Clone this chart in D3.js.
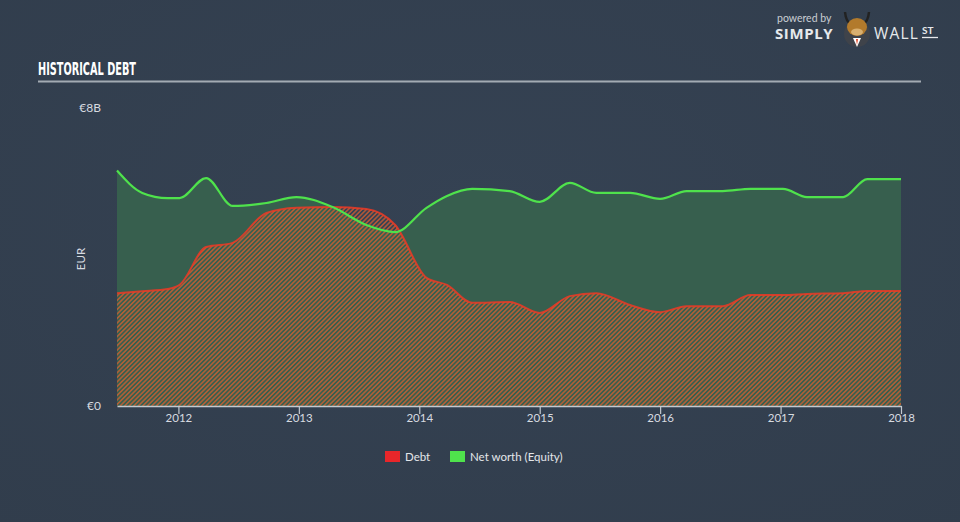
<!DOCTYPE html>
<html>
<head>
<meta charset="utf-8">
<script src="https://cdn.jsdelivr.net/npm/d3@7"></script>
<style>
  html, body { margin: 0; padding: 0; }
  body { width: 960px; height: 522px; overflow: hidden; background: #334050; font-family: Lato, "Open Sans", sans-serif; }
</style>
</head>
<body>
<div id="chart"></div>
<script>
// Historical debt vs net worth (EUR billions)
const years = [2011.49, 2011.70, 2011.91, 2012.01, 2012.23, 2012.45, 2012.73, 2012.98, 2013.28, 2013.56, 2013.80,
               2014.06, 2014.23, 2014.44, 2014.75, 2015.0, 2015.25, 2015.47, 2015.75, 2016.0, 2016.22, 2016.52,
               2016.75, 2017.02, 2017.22, 2017.52, 2017.72, 2018.0];
const debt = [3.03, 3.08, 3.14, 3.25, 4.27, 4.38, 5.18, 5.32, 5.34, 5.29, 4.86,
              3.44, 3.25, 2.77, 2.79, 2.50, 2.95, 3.03, 2.71, 2.52, 2.68, 2.68,
              2.98, 2.98, 3.01, 3.03, 3.09, 3.09];
const equity = [6.32, 5.72, 5.58, 5.58, 6.12, 5.37, 5.45, 5.61, 5.34, 4.86, 4.67,
                5.32, 5.64, 5.83, 5.77, 5.48, 5.99, 5.72, 5.72, 5.56, 5.77, 5.77,
                5.83, 5.83, 5.61, 5.61, 6.09, 6.09];
const xTicks = [2012, 2013, 2014, 2015, 2016, 2017, 2018];
const yTicks = [0, 8];
const yTickLabels = ['€0', '€8B'];
const legendItems = [{ name: 'Debt', color: '#e8262a' }, { name: 'Net worth (Equity)', color: '#4fe24c' }];

const width = 960, height = 522;
const plot = { left: 117, right: 901, top: 108, bottom: 406 };

const svg = d3.select('#chart').append('svg')
  .attr('width', width)
  .attr('height', height);

const defs = svg.append('defs');
const bg = defs.append('radialGradient').attr('id', 'bg-grad')
  .attr('cx', '50%').attr('cy', '40%').attr('r', '80%');
bg.append('stop').attr('offset', '0%').attr('stop-color', '#354253');
bg.append('stop').attr('offset', '100%').attr('stop-color', '#313d4c');

// diagonal hatch used for debt
const hatch = defs.append('pattern')
  .attr('id', 'hatch')
  .attr('patternUnits', 'userSpaceOnUse')
  .attr('width', 3.2).attr('height', 4)
  .attr('patternTransform', 'rotate(45)');
hatch.append('rect').attr('x', 0).attr('y', 0).attr('width', 1.6).attr('height', 4)
  .attr('fill', '#e0602f').attr('fill-opacity', 0.7);

svg.append('rect').attr('width', width).attr('height', height).attr('fill', 'url(#bg-grad)');

const x = d3.scaleLinear().domain([years[0], 2018]).range([plot.left, plot.right]);
const y = d3.scaleLinear().domain([0, 8]).range([plot.bottom, plot.top]);

const rows = years.map((yr, i) => ({ yr, debt: debt[i], equity: equity[i] }));

const curve = d3.curveMonotoneX;
const eqArea = d3.area().curve(curve).x(d => x(d.yr)).y0(y(0)).y1(d => y(d.equity));
const dbArea = d3.area().curve(curve).x(d => x(d.yr)).y0(y(0)).y1(d => y(d.debt));
const eqLine = d3.line().curve(curve).x(d => x(d.yr)).y(d => y(d.equity));
const dbLine = d3.line().curve(curve).x(d => x(d.yr)).y(d => y(d.debt));

svg.append('path').datum(rows).attr('d', eqArea).attr('fill', '#375f4e');
svg.append('path').datum(rows).attr('d', dbArea).attr('fill', 'url(#hatch)');
svg.append('path').datum(rows).attr('d', dbLine)
  .attr('fill', 'none').attr('stroke', '#ec3a26').attr('stroke-width', 2).attr('stroke-opacity', 0.85);
svg.append('path').datum(rows).attr('d', eqLine)
  .attr('fill', 'none').attr('stroke', '#4fe24c').attr('stroke-width', 2.2);

// x axis
const xAxis = d3.axisBottom(x).tickValues(xTicks).tickFormat(d3.format('d')).tickSize(-8).tickSizeOuter(0);
const xg = svg.append('g').attr('transform', `translate(0,${plot.bottom})`).call(xAxis);
xg.select('.domain').attr('stroke', '#c3c9cf').attr('stroke-width', 1.5);
xg.selectAll('.tick line').attr('stroke', '#c3c9cf').attr('y1', 8).attr('y2', 0).attr('stroke-width', 1.2);
xg.selectAll('.tick text').attr('fill', '#d7dbe0').attr('font-size', 11.5).attr('dy', '0.75em').attr('y', 7)
  .attr('font-family', 'Lato, sans-serif');

// y labels
svg.append('g').selectAll('text').data(yTicks).join('text')
  .attr('x', 101).attr('y', d => y(d)).attr('dy', '0.35em')
  .attr('text-anchor', 'end').attr('fill', '#d7dbe0').attr('font-size', 12)
  .text((d, i) => yTickLabels[i]);

svg.append('text')
  .attr('transform', `translate(85,${(plot.top + plot.bottom) / 2 + 2}) rotate(-90)`)
  .attr('text-anchor', 'middle').attr('fill', '#d7dbe0').attr('font-size', 11.5)
  .text('EUR');

// title
svg.append('text')
  .attr('x', 38).attr('y', 75)
  .attr('fill', '#ffffff').attr('font-size', 18).attr('font-weight', 'bold')
  .attr('font-family', '"Liberation Sans Narrow", "DejaVu Sans Condensed", sans-serif')
  .attr('font-stretch', 'condensed')
  .attr('textLength', 98).attr('lengthAdjust', 'spacingAndGlyphs')
  .text('HISTORICAL DEBT');
svg.append('line').attr('x1', 38).attr('x2', 921).attr('y1', 81.5).attr('y2', 81.5)
  .attr('stroke', '#a3abb3').attr('stroke-width', 2);

// legend
const lg = svg.append('g').attr('transform', 'translate(385,451)');
let lx = 0;
legendItems.forEach(item => {
  lg.append('rect').attr('x', lx).attr('y', 0).attr('width', 15).attr('height', 11).attr('fill', item.color);
  lg.append('text').attr('x', lx + 20).attr('y', 10).attr('fill', '#e3e6ea')
    .attr('font-size', 11.5).text(item.name);
  lx += 65;
});

// logo
const logo = svg.append('g');
logo.append('text').attr('x', 777).attr('y', 22).attr('fill', '#c9ced4').attr('font-size', 10.5).text('powered by');
logo.append('text').attr('x', 775).attr('y', 39).attr('fill', '#e6e9ec').attr('font-size', 15).attr('font-weight', 'bold')
  .attr('font-family', '"Open Sans", sans-serif').attr('letter-spacing', 0.6).text('SIMPLY');
logo.append('text').attr('x', 874).attr('y', 39).attr('fill', '#e6e9ec').attr('font-size', 15.5)
  .attr('font-family', '"Open Sans", sans-serif').attr('letter-spacing', 1.2).text('WALL');
logo.append('text').attr('x', 922).attr('y', 34).attr('fill', '#e6e9ec').attr('font-size', 10).attr('font-weight', 'bold')
  .text('ST');
logo.append('line').attr('x1', 922).attr('x2', 938).attr('y1', 37.5).attr('y2', 37.5).attr('stroke', '#e6e9ec').attr('stroke-width', 1.3);
// bull badge
logo.append('circle').attr('cx', 857).attr('cy', 34).attr('r', 13).attr('fill', '#3f434a');
logo.append('path').attr('d', 'M845,12 Q846,22 851,24 M869,12 Q868,22 863,24').attr('stroke', '#222').attr('stroke-width', 2.5).attr('fill', 'none');
logo.append('ellipse').attr('cx', 857).attr('cy', 27).attr('rx', 10).attr('ry', 9).attr('fill', '#b27a2c');
logo.append('ellipse').attr('cx', 857).attr('cy', 32).attr('rx', 6).attr('ry', 3.5).attr('fill', '#d9b070');
logo.append('path').attr('d', 'M853,38 L861,38 L857,47 Z').attr('fill', '#ffffff');
logo.append('path').attr('d', 'M856,39 L858,39 L857,45 Z').attr('fill', '#e0401e');
</script>
</body>
</html>
